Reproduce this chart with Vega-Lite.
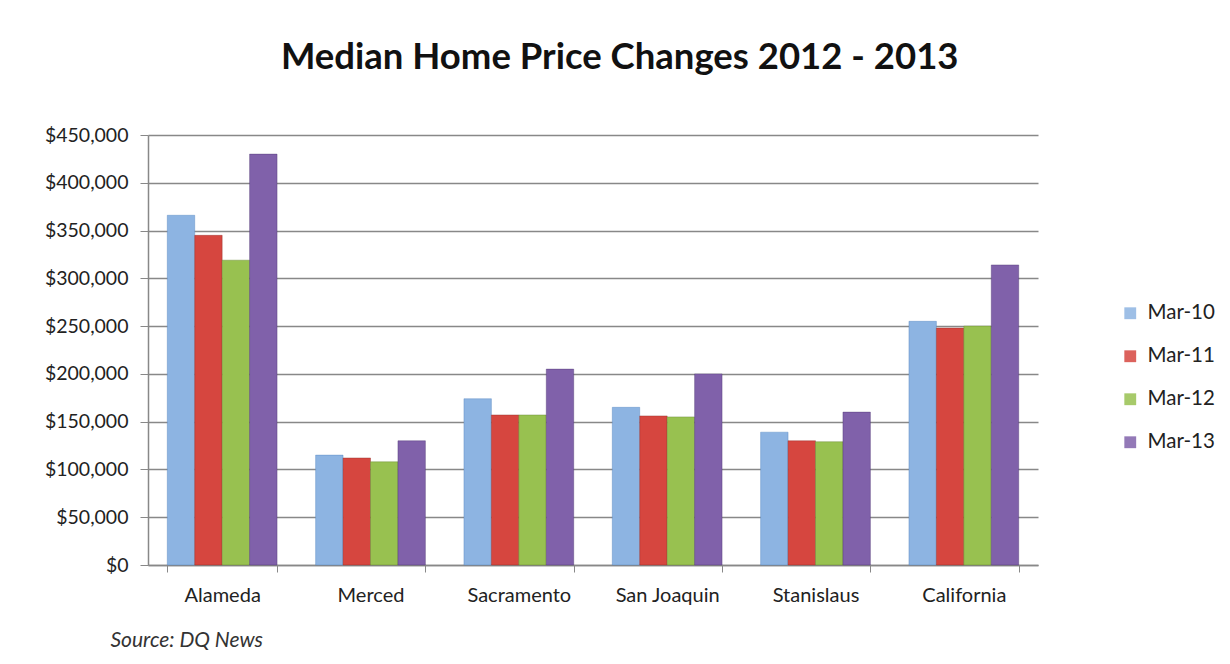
{
  "$schema": "https://vega.github.io/schema/vega-lite/v6.json",
  "width": 890,
  "height": 430,
  "autosize": {"type": "none"},
  "padding": {"left": 148, "top": 135, "right": 192, "bottom": 99},
  "background": "white",
  "title": {
    "text": "Median Home Price Changes 2012 - 2013",
    "font": "Lato",
    "fontSize": 36.5,
    "fontWeight": "bold",
    "color": "#111111",
    "anchor": "middle",
    "frame": "bounds",
    "offset": 49,
    "dx": -10
  },
  "data": {
    "values": [
      {"county": "Alameda", "period": "Mar-10", "price": 366000},
      {"county": "Alameda", "period": "Mar-11", "price": 345000},
      {"county": "Alameda", "period": "Mar-12", "price": 319000},
      {"county": "Alameda", "period": "Mar-13", "price": 430000},
      {"county": "Merced", "period": "Mar-10", "price": 115000},
      {"county": "Merced", "period": "Mar-11", "price": 112000},
      {"county": "Merced", "period": "Mar-12", "price": 108000},
      {"county": "Merced", "period": "Mar-13", "price": 130000},
      {"county": "Sacramento", "period": "Mar-10", "price": 174000},
      {"county": "Sacramento", "period": "Mar-11", "price": 157000},
      {"county": "Sacramento", "period": "Mar-12", "price": 157000},
      {"county": "Sacramento", "period": "Mar-13", "price": 205000},
      {"county": "San Joaquin", "period": "Mar-10", "price": 165000},
      {"county": "San Joaquin", "period": "Mar-11", "price": 156000},
      {"county": "San Joaquin", "period": "Mar-12", "price": 155000},
      {"county": "San Joaquin", "period": "Mar-13", "price": 200000},
      {"county": "Stanislaus", "period": "Mar-10", "price": 139000},
      {"county": "Stanislaus", "period": "Mar-11", "price": 130000},
      {"county": "Stanislaus", "period": "Mar-12", "price": 129000},
      {"county": "Stanislaus", "period": "Mar-13", "price": 160000},
      {"county": "California", "period": "Mar-10", "price": 255000},
      {"county": "California", "period": "Mar-11", "price": 248000},
      {"county": "California", "period": "Mar-12", "price": 250000},
      {"county": "California", "period": "Mar-13", "price": 314000}
    ]
  },
  "mark": {"type": "bar", "strokeWidth": 0.8, "strokeOpacity": 0.5},
  "encoding": {
    "x": {
      "field": "county",
      "type": "nominal",
      "sort": null,
      "scale": {"paddingInner": 0.26, "paddingOuter": 0.13},
      "axis": {
        "title": "Source:  DQ News",
        "titleFont": "Lato",
        "titleFontSize": 21,
        "titleFontStyle": "italic",
        "titleFontWeight": "normal",
        "titleColor": "#333333",
        "titleAnchor": "start",
        "titleAlign": "left",
        "titleX": -38,
        "titlePadding": 24,
        "labelAngle": 0,
        "labelFont": "Lato",
        "labelFontSize": 20,
        "labelColor": "#222222",
        "labelPadding": 13,
        "tickBand": "extent",
        "tickSize": 7,
        "tickColor": "#888888",
        "domainColor": "#888888",
        "domainWidth": 1.5,
        "grid": false
      }
    },
    "xOffset": {"field": "period", "type": "nominal", "scale": {"paddingInner": 0, "paddingOuter": 0}},
    "y": {
      "field": "price",
      "type": "quantitative",
      "scale": {"domain": [0, 450000], "nice": false},
      "axis": {
        "title": null,
        "values": [0, 50000, 100000, 150000, 200000, 250000, 300000, 350000, 400000, 450000],
        "format": "$,.0f",
        "labelFont": "Lato",
        "labelFontSize": 19.5,
        "labelColor": "#222222",
        "labelPadding": 12,
        "tickSize": 8,
        "tickColor": "#888888",
        "domainColor": "#888888",
        "domainWidth": 1.5,
        "gridColor": "#888888",
        "gridWidth": 1.4
      }
    },
    "color": {
      "field": "period",
      "type": "nominal",
      "scale": {
        "domain": ["Mar-10", "Mar-11", "Mar-12", "Mar-13"],
        "range": ["#8db4e2", "#d6463f", "#98c150", "#8061aa"]
      },
      "legend": {
        "title": null,
        "orient": "none",
        "legendX": 972,
        "legendY": 168,
        "symbolType": "square",
        "symbolSize": 140,
        "symbolStrokeWidth": 0,
        "symbolOpacity": 0.85,
        "labelFont": "Lato",
        "labelFontSize": 20.5,
        "labelColor": "#222222",
        "labelOffset": 7,
        "rowPadding": 22
      }
    },
    "stroke": {
      "field": "period",
      "type": "nominal",
      "scale": {
        "domain": ["Mar-10", "Mar-11", "Mar-12", "Mar-13"],
        "range": ["#4f81bd", "#8f2a25", "#5f7f2a", "#4b3570"]
      },
      "legend": null
    }
  },
  "config": {
    "view": {"stroke": null}
  }
}
